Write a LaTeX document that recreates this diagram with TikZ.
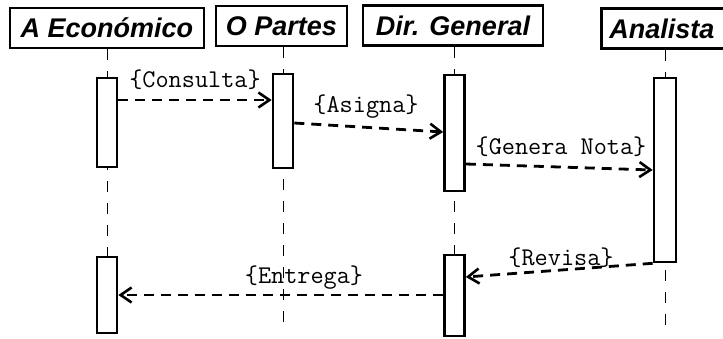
\documentclass[tikz,border=0pt]{standalone}
\usepackage{fontspec}
\setmainfont{Liberation Sans}
\usetikzlibrary{arrows.meta}
\begin{document}
\begin{tikzpicture}[x=1pt,y=-1pt,
  head/.style={draw,line width=2.8pt,inner sep=0pt,minimum height=40pt,
    font=\fontsize{27}{27}\selectfont\bfseries\itshape},
  bar/.style={draw,fill=white,line width=2.6pt,inner sep=0pt,minimum width=20pt},
  life/.style={line width=1pt,dash pattern=on 11pt off 11pt},
  msg/.style={line width=2.8pt,dash pattern=on 10pt off 7pt,
    -{Straight Barb[length=11pt,width=15pt,line width=2.6pt]}},
  lbl/.style={font=\ttfamily\fontsize{25.5}{25.5}\selectfont,inner sep=0pt}]
\useasboundingbox (0,0) rectangle (723,338);
% headers
\node[head,minimum width=194pt] (hA) at (107,28) {A Económico};
\node[head,minimum width=131pt] (hO) at (281.5,26) {O Partes};
\node[head,minimum width=180pt] (hD) at (453,25.5) {Dir. General};
\node[head,minimum width=140pt,anchor=west,text width=124pt,align=left,inner xsep=8pt] (hN) at (600,28.5) {Analista};
% lifelines
\coordinate (eA) at (107,333);
\coordinate (eO) at (283,322);
\coordinate (eD) at (454.5,336);
\coordinate (eN) at (665,325);
\draw[life] (hA.south -| eA) -- (eA);
\draw[life] (hO.south -| eO) -- (eO);
\draw[life] (hD.south -| eD) -- (eD);
\draw[life] (hN.south -| eN) -- (eN);
% activation bars
\node[bar,minimum height=89pt] (a1) at (107,122.5) {};
\node[bar,minimum height=76pt] (a2) at (107,295) {};
\node[bar,minimum height=94pt] (o1) at (283,121) {};
\node[bar,minimum height=116pt] (d1) at (454.5,133) {};
\node[bar,minimum height=81pt] (d2) at (454.5,295.5) {};
\node[bar,minimum height=184pt,minimum width=22pt] (n1) at (665,170) {};
% messages
\draw[msg] (a1.east |- 0,100) -- (o1.west |- 0,100);
\node[lbl] (lC) at (195,80) {\{Consulta\}};
\draw[msg] (o1.east |- 0,123) -- (d1.west |- 0,132);
\node[lbl] (lA) at (366,107) {\{Asigna\}};
\draw[msg] (d1.east |- 0,164) -- (n1.west |- 0,170);
\node[lbl] (lG) at (561,147) {\{Genera Nota\}};
\draw[msg] (n1.south west) -- (d2.east |- 0,277);
\node[lbl] (lR) at (561,258) {\{Revisa\}};
\draw[msg] (d2.west |- 0,295) -- (a2.east |- 0,295);
\node[lbl] (lE) at (304,278) {\{Entrega\}};
\end{tikzpicture}
\end{document}
